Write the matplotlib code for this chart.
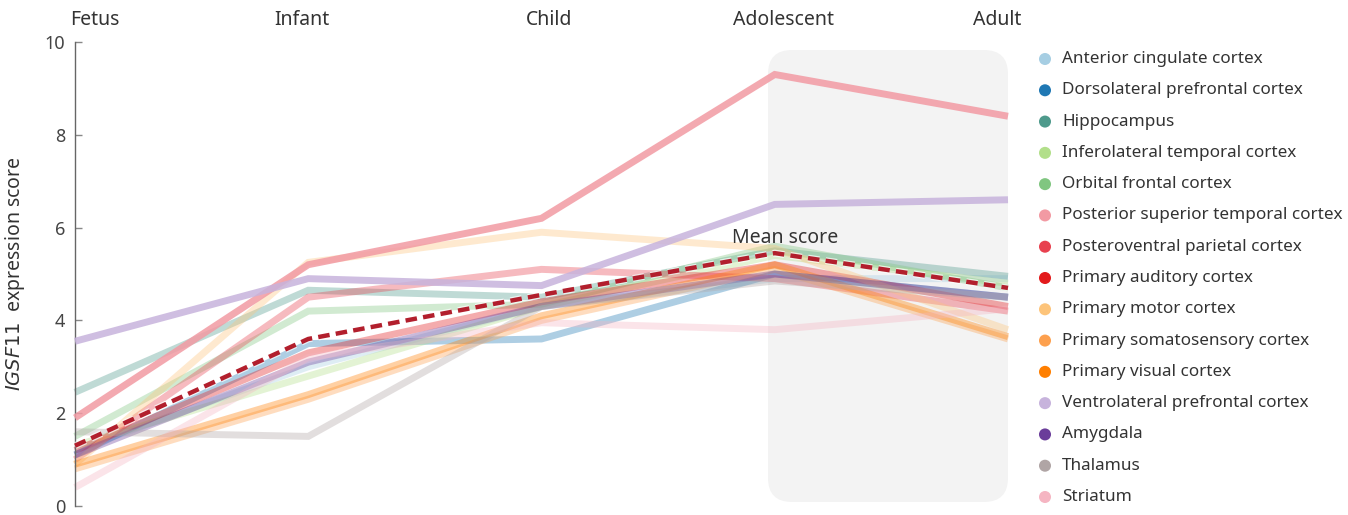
import matplotlib
matplotlib.use("Agg")
import matplotlib.pyplot as plt
import matplotlib.patheffects as pe
from matplotlib.patches import FancyBboxPatch

plt.rcParams['font.family'] = ['Noto Sans', 'DejaVu Sans']

# Developmental stages along the x axis
stages = ["Fetus", "Infant", "Child", "Adolescent", "Adult"]

# IGSF11 expression score per brain region, one value per stage
anterior_cingulate = [1.2, 3.0, 4.3, 4.9, 4.9]
dorsolateral_prefrontal = [1.1, 3.5, 3.6, 5.0, 4.5]
hippocampus = [2.45, 4.65, 4.5, 5.5, 4.95]
inferolateral_temporal = [1.3, 2.8, 4.3, 5.4, 4.8]
orbital_frontal = [1.5, 4.2, 4.35, 5.6, 4.7]
posterior_superior_temporal = [1.9, 5.2, 6.2, 9.3, 8.4]
posteroventral_parietal = [1.0, 4.5, 5.1, 4.9, 4.2]
primary_auditory = [1.2, 3.3, 4.4, 5.2, 4.3]
primary_motor = [0.9, 5.25, 5.9, 5.55, 3.8]
primary_somatosensory = [0.8, 2.3, 4.0, 5.1, 3.6]
primary_visual = [0.9, 2.4, 4.1, 5.2, 3.65]
ventrolateral_prefrontal = [3.55, 4.9, 4.75, 6.5, 6.6]
amygdala = [1.1, 3.1, 4.3, 5.0, 4.5]
thalamus = [1.6, 1.5, 4.3, 4.85, 4.5]
striatum = [0.4, 3.2, 3.95, 3.8, 4.25]

mean_score = [1.3, 3.6, 4.55, 5.45, 4.7]

region_names = [
    "Anterior cingulate cortex",
    "Dorsolateral prefrontal cortex",
    "Hippocampus",
    "Inferolateral temporal cortex",
    "Orbital frontal cortex",
    "Posterior superior temporal cortex",
    "Posteroventral parietal cortex",
    "Primary auditory cortex",
    "Primary motor cortex",
    "Primary somatosensory cortex",
    "Primary visual cortex",
    "Ventrolateral prefrontal cortex",
    "Amygdala",
    "Thalamus",
    "Striatum",
]
region_scores = [
    anterior_cingulate, dorsolateral_prefrontal, hippocampus,
    inferolateral_temporal, orbital_frontal, posterior_superior_temporal,
    posteroventral_parietal, primary_auditory, primary_motor,
    primary_somatosensory, primary_visual, ventrolateral_prefrontal,
    amygdala, thalamus, striatum,
]
region_colors = [
    "#a6cee3", "#1f78b4", "#4e9a8c", "#b2df8a", "#80c680",
    "#f29aa3", "#e8414f", "#e31a1c", "#fdc47a", "#fda04e",
    "#ff7f00", "#c7b3dc", "#6a3d9a", "#b0a5a5", "#f5b5c2",
]
highlighted = {"Posterior superior temporal cortex", "Ventrolateral prefrontal cortex"}

W, H = 1348, 515
fig = plt.figure(figsize=(W / 100, H / 100), dpi=100)

# main axes in pixel terms: x 75..1008, y 42..506
ax_l, ax_r, ax_t, ax_b = 75, 1008, 42, 506
ax = fig.add_axes([ax_l / W, (H - ax_b) / H, (ax_r - ax_l) / W, (ax_b - ax_t) / H])
ax.set_xlim(0, len(stages) - 1)
ax.set_ylim(0, 10)

# rounded grey panel behind the adolescent-to-adult span
px_x = (len(stages) - 1) / (ax_r - ax_l)
px_y = 10 / (ax_b - ax_t)
x0 = (768 - ax_l) * px_x
y0 = (ax_b - 502) * px_y
y1 = (ax_b - 50) * px_y
panel = FancyBboxPatch((x0, y0), (len(stages) - 1) - x0, y1 - y0,
                       boxstyle=f"round,pad=0,rounding_size={24 * px_x}",
                       mutation_aspect=px_y / px_x,
                       fc="#f3f3f3", ec="none", zorder=0)
ax.add_patch(panel)

xs = list(range(len(stages)))
for name, vals, col in zip(region_names, region_scores, region_colors):
    strong = name in highlighted
    ax.plot(xs, vals, color=col, lw=5.0, alpha=0.85 if strong else 0.36,
            solid_capstyle="butt", solid_joinstyle="miter",
            zorder=3 if strong else 2, clip_on=False)

ax.plot(xs, mean_score, color="#b21f2d", lw=3.2, dashes=(2.6, 1.4),
        dash_capstyle="butt", zorder=5, clip_on=False,
        path_effects=[pe.withStroke(linewidth=5.0, foreground="white", alpha=0.7)])
ax.text(3.044, 5.78, "Mean score", ha="center", va="center",
        fontsize=14, color="#333333", zorder=6)

# stage labels across the top, nudged slightly in pixels
label_nudge_px = [0, -6, 8, 9, -11]
for i, s in enumerate(stages):
    ha = "left" if i == 0 else "center"
    xi = i - 0.02 if i == 0 else i + label_nudge_px[i] * px_x
    ax.text(xi, 1.047, s, transform=ax.get_xaxis_transform(), ha=ha,
            va="center", fontsize=14, color="#333333")

for side in ("top", "right", "bottom"):
    ax.spines[side].set_visible(False)
ax.spines["left"].set_color("#666666")
ax.spines["left"].set_linewidth(1.0)
ax.set_xticks([])
ax.set_yticks(range(0, 11, 2))
ax.tick_params(axis="y", direction="in", length=5, width=1, color="#888888",
               labelsize=13, labelcolor="#444444", pad=7)
ax.set_ylabel(r"$\it{IGSF11}$  expression score", fontsize=14, color="#333333")
ax.yaxis.set_label_coords(-48 / (ax_r - ax_l), 0.5)

# legend drawn as its own column of dots and names
row_first, row_last = 59, 497
step = (row_last - row_first) / (len(region_names) - 1)
lax = fig.add_axes([1030 / W, (H - (row_last + step / 2)) / H, 318 / W,
                    (row_last - row_first + step) / H])
lax.set_xlim(0, 318)
lax.set_ylim(len(region_names) - 0.5, -0.5)
lax.axis("off")
for i, (name, col) in enumerate(zip(region_names, region_colors)):
    lax.scatter(15, i, s=75, color=col, edgecolors="none")
    lax.text(32, i, name, va="center", ha="left", fontsize=12.3, color="#333333")

fig.savefig("out.png", dpi=100)
